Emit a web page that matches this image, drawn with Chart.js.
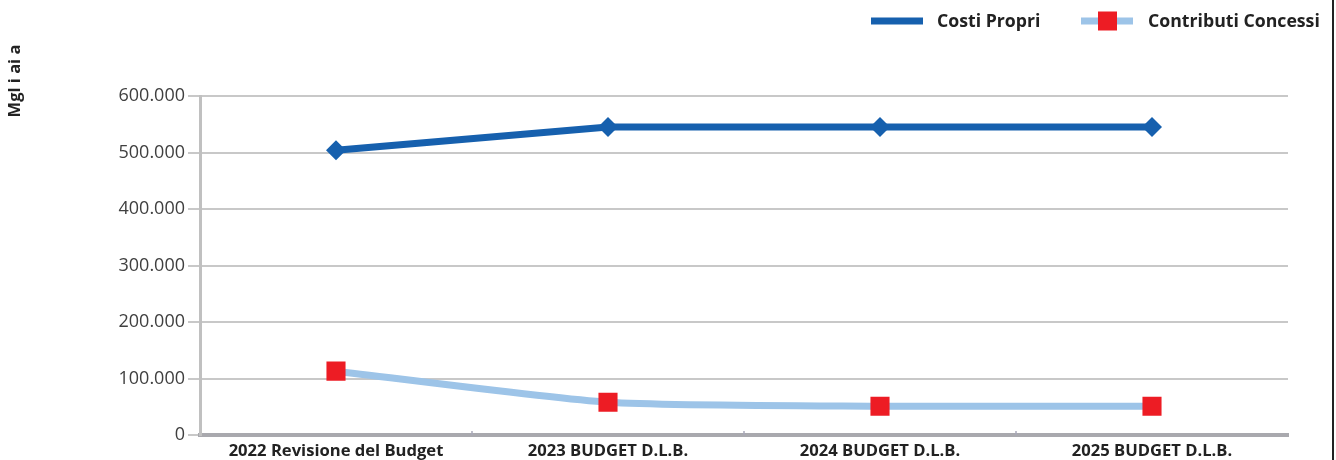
<!DOCTYPE html>
<html>
<head>
<meta charset="utf-8">
<script src="https://cdn.jsdelivr.net/npm/chart.js@4/dist/chart.umd.min.js"></script>
<style>
  html, body { margin: 0; padding: 0; background: #fff; }
  #wrap { position: relative; width: 1336px; height: 460px; }
  #frame { position: absolute; left: 1332px; top: 0; width: 2px; height: 460px; background: #222; }
</style>
</head>
<body>
<div id="wrap">
  <canvas id="c" width="1336" height="460"></canvas>
  <div id="frame"></div>
</div>
<script>
const categories = ["2022 Revisione del Budget", "2023 BUDGET D.L.B.", "2024 BUDGET D.L.B.", "2025 BUDGET D.L.B."];
const costiPropri = [504000, 545000, 545000, 545000];
const contributiConcessi = [113000, 58000, 51000, 51000];
const seriesNames = ["Costi Propri", "Contributi Concessi"];
const yAxisTitle = "Mgl i ai a";
const yTicks = [0, 100000, 200000, 300000, 400000, 500000, 600000];

const FONT = "'Open Sans', Lato, sans-serif";
const BLUE = "#1660ae";
const LIGHT = "#9dc4e8";
const RED = "#ed1c24";

function fmt(v) {
  return String(v).replace(/\B(?=(\d{3})+(?!\d))/g, ".");
}

const extras = {
  id: "extras",
  afterDraw(chart) {
    const ctx = chart.ctx;
    const x = chart.scales.x;
    const area = chart.chartArea;
    ctx.save();
    // inner tick marks at category boundaries
    ctx.strokeStyle = "#a8a8b8";
    ctx.lineWidth = 1.5;
    for (let i = 0; i < categories.length - 1; i++) {
      const px = (x.getPixelForValue(i) + x.getPixelForValue(i + 1)) / 2;
      ctx.beginPath();
      ctx.moveTo(px, area.bottom - 4);
      ctx.lineTo(px, area.bottom);
      ctx.stroke();
    }
    // y axis title
    ctx.translate(15, 81);
    ctx.rotate(-Math.PI / 2);
    ctx.fillStyle = "#222";
    ctx.font = "bold 16.5px " + FONT;
    ctx.textAlign = "center";
    ctx.textBaseline = "middle";
    ctx.fillText(yAxisTitle, 0, 0);
    ctx.restore();

    // legend
    ctx.save();
    const ly = 21;
    ctx.lineWidth = 7;
    ctx.strokeStyle = BLUE;
    ctx.beginPath(); ctx.moveTo(871, ly); ctx.lineTo(923, ly); ctx.stroke();
    ctx.strokeStyle = LIGHT;
    ctx.beginPath(); ctx.moveTo(1081, ly); ctx.lineTo(1133, ly); ctx.stroke();
    ctx.fillStyle = RED;
    ctx.fillRect(1098, ly - 9.5, 19, 19);
    ctx.fillStyle = "#222";
    ctx.font = "bold 17.7px " + FONT;
    ctx.textAlign = "left";
    ctx.textBaseline = "middle";
    ctx.fillText(seriesNames[0], 937, ly + 1);
    ctx.fillText(seriesNames[1], 1148, ly + 1);
    ctx.restore();
  }
};

new Chart(document.getElementById("c"), {
  type: "line",
  data: {
    labels: categories,
    datasets: [
      {
        label: seriesNames[0],
        data: costiPropri,
        borderColor: BLUE,
        backgroundColor: BLUE,
        borderWidth: 7,
        pointStyle: "rectRot",
        pointRadius: 10,
        pointHoverRadius: 10,
        pointBorderWidth: 0,
        tension: 0
      },
      {
        label: seriesNames[1],
        data: contributiConcessi,
        borderColor: LIGHT,
        backgroundColor: RED,
        pointBackgroundColor: RED,
        pointBorderColor: RED,
        borderWidth: 7,
        pointStyle: "rect",
        pointRadius: 13.5,
        pointHoverRadius: 13.5,
        pointBorderWidth: 0,
        tension: 0.2
      }
    ]
  },
  options: {
    responsive: false,
    animation: false,
    devicePixelRatio: 1,
    layout: { padding: { left: 0, right: 48, top: 96, bottom: 0 } },
    plugins: { legend: { display: false }, tooltip: { enabled: false } },
    scales: {
      x: {
        type: "category",
        offset: true,
        grid: { display: false, drawTicks: false },
        border: { display: true, color: "#a9a9ae", width: 4 },
        ticks: {
          color: "#222",
          font: { family: FONT, size: 16.6, weight: "bold" },
          padding: 6,
          maxRotation: 0,
          autoSkip: false
        },
        afterFit(s) { s.height = 25; }
      },
      y: {
        min: 0,
        max: 600000,
        afterBuildTicks(s) { s.ticks = yTicks.map(v => ({ value: v })); },
        grid: { color: "#c8c8c8", lineWidth: 2, drawTicks: true, tickLength: 12, tickColor: "#c8c8c8" },
        border: { display: true, color: "#c0c0c0", width: 3 },
        ticks: {
          color: "#404040",
          font: { family: FONT, size: 18 },
          padding: 3,
          callback: v => fmt(v)
        },
        afterFit(s) { s.width = 200; }
      }
    }
  },
  plugins: [extras]
});
</script>
</body>
</html>
